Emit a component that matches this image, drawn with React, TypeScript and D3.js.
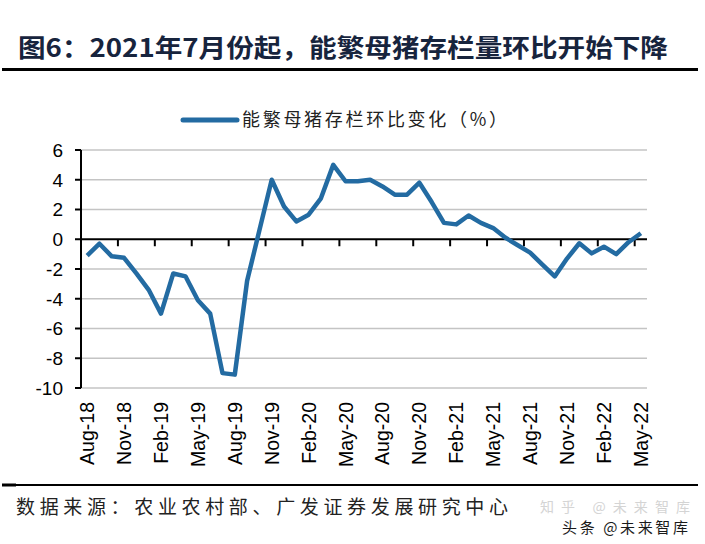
import React from "react";
import * as d3 from "d3";

const months: string[] = [
  "Aug-18","Sep-18","Oct-18","Nov-18","Dec-18","Jan-19","Feb-19","Mar-19","Apr-19","May-19",
  "Jun-19","Jul-19","Aug-19","Sep-19","Oct-19","Nov-19","Dec-19","Jan-20","Feb-20","Mar-20",
  "Apr-20","May-20","Jun-20","Jul-20","Aug-20","Sep-20","Oct-20","Nov-20","Dec-20","Jan-21",
  "Feb-21","Mar-21","Apr-21","May-21","Jun-21","Jul-21","Aug-21","Sep-21","Oct-21","Nov-21",
  "Dec-21","Jan-22","Feb-22","Mar-22","Apr-22","May-22",
];

const momChange: number[] = [
  -1.1, -0.3, -1.15, -1.25, -2.3, -3.4, -5.0, -2.3, -2.5, -4.1,
  -5.0, -9.0, -9.1, -2.8, 0.6, 4.0, 2.2, 1.2, 1.65, 2.75,
  5.0, 3.9, 3.9, 4.0, 3.55, 3.0, 3.0, 3.8, 2.5, 1.1,
  1.0, 1.6, 1.1, 0.75, 0.1, -0.4, -0.9, -1.7, -2.5, -1.3,
  -0.27, -0.95, -0.5, -1.0, -0.2, 0.4,
];

const xTickLabels: string[] = [
  "Aug-18","Nov-18","Feb-19","May-19","Aug-19","Nov-19","Feb-20","May-20",
  "Aug-20","Nov-20","Feb-21","May-21","Aug-21","Nov-21","Feb-22","May-22",
];

const yTicks: number[] = [6, 4, 2, 0, -2, -4, -6, -8, -10];

const title = "图6：2021年7月份起，能繁母猪存栏量环比开始下降";
const legendLabel = "能繁母猪存栏环比变化（%）";
const sourceText = "数据来源：农业农村部、广发证券发展研究中心";

const LINE = "#236ba2";

export default function App() {
  const W = 705, H = 544;
  const left = 81, right = 647, top = 150, bottom = 388;

  const x = d3.scaleBand<number>().domain(d3.range(months.length)).range([left, right]).padding(0);
  const y = d3.scaleLinear().domain([-10, 6]).range([bottom, top]);
  const cx = (i: number) => (x(i) as number) + x.bandwidth() / 2;

  const line = d3.line<number>().x((_, i) => cx(i)).y((d) => y(d));

  const labelIdx = xTickLabels.map((l) => months.indexOf(l));
  const tickIdx = d3.range(months.length).filter((i) => i > 0 && i % 3 === 0);

  return (
    <svg width={W} height={H} style={{ position: "absolute", left: 0, top: 0, background: "#fff" }}>
      <rect x={0} y={0} width={W} height={H} fill="#fff" />
      {/* title */}
      <text x={18} y={57} fontFamily="'Noto Sans CJK SC', sans-serif" fontWeight={700} fontSize={25}
        fill="#17243d" textLength={650} lengthAdjust="spacingAndGlyphs">{title}</text>
      <line x1={2} x2={698} y1={69.5} y2={69.5} stroke="#000" strokeWidth={3} />

      {/* legend */}
      <line x1={183} x2={237} y1={120} y2={120} stroke={LINE} strokeWidth={5} strokeLinecap="round" />
      <text x={242} y={120} dy="0.36em" fontFamily="'Noto Sans CJK SC', sans-serif" fontWeight={400}
        fontSize={18} fill="#222" textLength={265} lengthAdjust="spacing">{legendLabel}</text>

      {/* gridlines */}
      {yTicks.filter((t) => t !== 0).map((t) => (
        <line key={"g" + t} x1={left} x2={right} y1={y(t)} y2={y(t)} stroke="#c4c4c4" strokeWidth={1.5} />
      ))}

      {/* y axis */}
      <line x1={left} x2={left} y1={top} y2={bottom} stroke="#000" strokeWidth={2} />
      {yTicks.map((t) => (
        <g key={"y" + t}>
          <line x1={left - 6} x2={left} y1={y(t)} y2={y(t)} stroke="#000" strokeWidth={2} />
          <text x={63} y={y(t)} dy="0.36em" textAnchor="end" fontFamily="'Liberation Sans', Arial, sans-serif"
            fontSize={19} fill="#000">{t}</text>
        </g>
      ))}

      {/* zero line and x ticks */}
      <line x1={left} x2={right} y1={y(0)} y2={y(0)} stroke="#000" strokeWidth={2} />
      {tickIdx.map((i) => (
        <line key={"t" + i} x1={x(i) as number} x2={x(i) as number} y1={y(0)} y2={y(0) + 7} stroke="#000" strokeWidth={2} />
      ))}

      {/* x labels */}
      {labelIdx.map((i, k) => (
        <text key={"xl" + k} transform={`translate(${cx(i)},402) rotate(-90)`} dy="0.36em" textAnchor="end"
          fontFamily="'Liberation Sans', Arial, sans-serif" fontSize={19.5} fill="#000">{xTickLabels[k]}</text>
      ))}

      {/* data line */}
      <path d={line(momChange) || ""} fill="none" stroke={LINE} strokeWidth={4.5} strokeLinejoin="round" />

      {/* footer */}
      <line x1={16} x2={698} y1={485} y2={485} stroke="#000" strokeWidth={2} />
      <line x1={2} x2={16} y1={485} y2={485} stroke="#000" strokeWidth={3} />
      <text x={16} y={507} dy="0.36em" fontFamily="'Noto Sans CJK SC', sans-serif" fontWeight={400} fontSize={19}
        fill="#222" textLength={492} lengthAdjust="spacing">{sourceText}</text>
      <text x={540} y={507} dy="0.36em" fontFamily="'Noto Sans CJK SC', sans-serif" fontSize={14}
        fill="#d4d4d4" textLength={150} lengthAdjust="spacing">知乎 @未来智库</text>
      <text x={562} y={528} dy="0.36em" fontFamily="'Noto Sans CJK SC', sans-serif" fontSize={15}
        fill="#1a1a1a" textLength={126} lengthAdjust="spacing">头条 @未来智库</text>
    </svg>
  );
}
